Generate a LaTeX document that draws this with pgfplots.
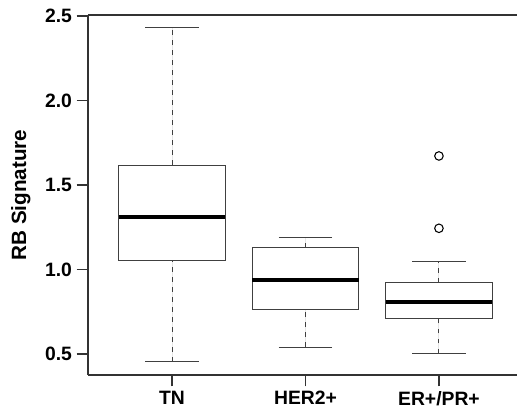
\documentclass[border=0pt]{standalone}
\usepackage{fontspec}
\setmainfont{Liberation Sans}
\usepackage{pgfplots}
\pgfplotsset{compat=1.18}
\usepgfplotslibrary{statistics}

% whiskers: dashed stem, solid cap
\pgfplotsset{
  rbox/.style={
    solid, draw=black!75, line width=0.8pt, fill=white,
    boxplot/draw direction=y,
    boxplot/box extend=0.8,
    boxplot/whisker extend=0.4,
    boxplot/every median/.style={black, line width=3pt},
    boxplot/draw/lower whisker/.code={
      \draw[black!75, line width=0.8pt, dash pattern=on 3.5pt off 4pt]
        (boxplot cs:\pgfplotsboxplotvalue{lower whisker})
        -- (boxplot cs:\pgfplotsboxplotvalue{lower quartile});
      \draw[black!75, line width=0.8pt]
        (boxplot whisker cs:\pgfplotsboxplotvalue{lower whisker},0)
        -- (boxplot whisker cs:\pgfplotsboxplotvalue{lower whisker},1);
    },
    boxplot/draw/upper whisker/.code={
      \draw[black!75, line width=0.8pt, dash pattern=on 3.5pt off 4pt]
        (boxplot cs:\pgfplotsboxplotvalue{upper quartile})
        -- (boxplot cs:\pgfplotsboxplotvalue{upper whisker});
      \draw[black!75, line width=0.8pt]
        (boxplot whisker cs:\pgfplotsboxplotvalue{upper whisker},0)
        -- (boxplot whisker cs:\pgfplotsboxplotvalue{upper whisker},1);
    },
  }
}

\begin{document}
\begin{tikzpicture}
\begin{axis}[
    scale only axis,
    width=321.75pt, height=270pt,
    xmin=0.37, xmax=3.585,
    ymin=0.376, ymax=2.506,
    axis x line*=box, axis y line*=left,
    axis line style={black!80, line width=0.9pt},
    xtick={1,2,3},
    xticklabels={TN,HER2+,ER+/PR+},
    ytick={0.5,1.0,1.5,2.0,2.5},
    tick align=outside,
    major tick length=8.5pt,
    tick style={black!80, line width=0.9pt},
    xtick pos=bottom,
    tick label style={font=\fontsize{14.5}{16}\selectfont\bfseries},
    /pgf/number format/.cd, fixed, fixed zerofill, precision=1, assume math mode=true,
    /pgfplots/.cd,
    ylabel={RB Signature},
    ylabel shift=4pt,
    ylabel style={font=\fontsize{15.5}{17}\selectfont\bfseries},
    clip=false,
]
\addplot+[rbox, mark=none, boxplot prepared={
    draw position=1,
    lower whisker=0.454, lower quartile=1.056, median=1.312,
    upper quartile=1.618, upper whisker=2.43}]
  coordinates {};
\addplot+[rbox, mark=none, boxplot prepared={
    draw position=2,
    lower whisker=0.541, lower quartile=0.761, median=0.940,
    upper quartile=1.129, upper whisker=1.190}]
  coordinates {};
\addplot+[rbox, mark=o, mark size=3.2pt,
    mark options={solid, black, line width=0.8pt, fill=none},
    boxplot prepared={
    draw position=3,
    lower whisker=0.504, lower quartile=0.709, median=0.806,
    upper quartile=0.922, upper whisker=1.050}]
  table[row sep=\\, y index=0] {1.672\\ 1.244\\};
\end{axis}
\pgfresetboundingbox
\path ([shift={(-66pt,-28.5pt)}]current axis.south west)
  rectangle ([shift={(0pt,11.25pt)}]current axis.north east);
\end{tikzpicture}
\end{document}
